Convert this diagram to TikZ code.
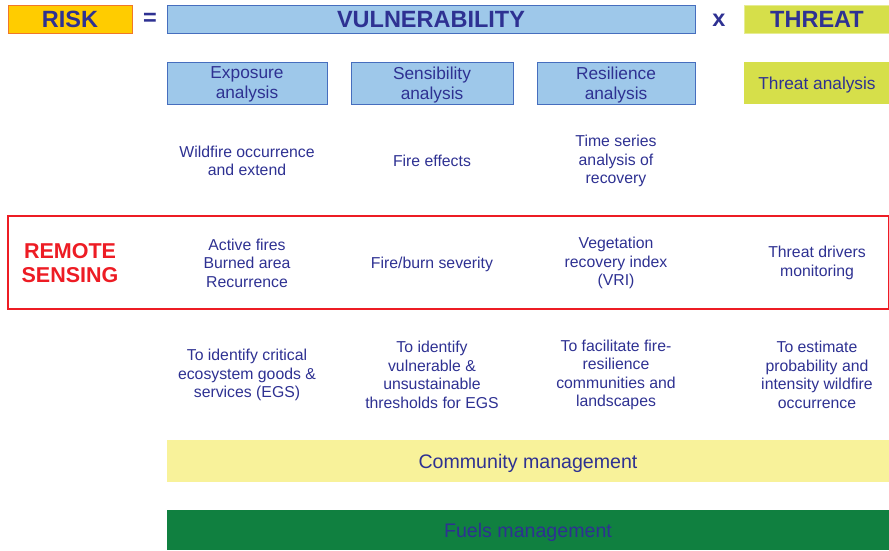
\documentclass[tikz,border=0pt]{standalone}
\usepackage{fontspec}
\setmainfont{Liberation Sans}
\definecolor{riskGold}{RGB}{255, 204, 0}
\definecolor{riskOrange}{RGB}{240, 120, 40}
\definecolor{vulnBlue}{RGB}{158, 200, 234}
\definecolor{vulnEdge}{RGB}{70, 110, 190}
\definecolor{threatLime}{RGB}{214, 223, 74}
\definecolor{textNavy}{RGB}{46, 49, 146}
\definecolor{rsRed}{RGB}{237, 28, 36}
\definecolor{commYellow}{RGB}{248, 242, 154}
\definecolor{fuelGreen}{RGB}{16, 128, 64}
\usetikzlibrary{positioning}

\tikzset{
  headbox/.style={minimum height=28pt, inner sep=0pt, text depth=0pt, font=\fontsize{23.5}{26}\selectfont\bfseries, text=textNavy},
  analysisbox/.style={fill=vulnBlue, draw=vulnEdge, line width=1pt, minimum height=42pt, inner sep=0pt, text depth=0pt, align=center, font=\fontsize{17.3}{20}\selectfont, text=textNavy},
  celltext/.style={align=center, font=\fontsize{15.8}{18.5}\selectfont, text=textNavy},
  bandbox/.style={minimum width=722pt, inner sep=0pt, text depth=0pt, font=\fontsize{19.6}{22}\selectfont, text=textNavy}
}

\begin{document}
\begin{tikzpicture}[x=1pt, y=-1pt]
  \useasboundingbox (0,0) rectangle (889,550);

  % top line: risk = vulnerability x threat
  \node[headbox, fill=riskGold, draw=riskOrange, line width=1pt, minimum width=124pt] (risk) at (70,19) {RISK};
  \node[headbox] (equals) at (150,19) {=};
  \node[headbox] (times) at (719,20) {x};
  \node[headbox, fill=vulnBlue, draw=vulnEdge, line width=1pt, minimum width=528pt] (vuln) at (431,19) {VULNERABILITY};
  \node[headbox, fill=threatLime, draw=threatLime!60!white, line width=0.8pt, minimum width=146pt] (threat) at (817,19) {THREAT};

  % analysis boxes
  \node[analysisbox, minimum width=160pt] (exposure) at (247,83) {Exposure\\analysis};
  \node[analysisbox, minimum width=162pt] (sensibility) at (432,83) {Sensibility\\analysis};
  \node[analysisbox, minimum width=158pt] (resilience) at (616,83) {Resilience\\analysis};
  \node[analysisbox, fill=threatLime, draw=none, minimum width=146pt] (threatan) at (817,83) {Threat analysis};

  % what is analysed
  \node[celltext] (occurrence) at (247,161) {Wildfire occurrence\\and extend};
  \node[celltext] (effects) at (432,161) {Fire effects};
  \node[celltext] (series) at (616,161) {Time series\\analysis of\\recovery};

  % remote sensing band
  \draw[rsRed, line width=1.5pt] (8,216) rectangle (889,309);
  \node[align=center, font=\fontsize{21.5}{24}\selectfont\bfseries, text=rsRed] (remote) at (70,263) {REMOTE\\SENSING};
  \node[celltext] (fires) at (247,263) {Active fires\\Burned area\\Recurrence};
  \node[celltext] (severity) at (432,264) {Fire/burn severity};
  \node[celltext] (vri) at (616,263) {Vegetation\\recovery index\\(VRI)};
  \node[celltext] (drivers) at (817,263) {Threat drivers\\monitoring};

  % aims
  \node[celltext] (goods) at (247,375) {To identify critical\\ecosystem goods \&\\services (EGS)};
  \node[celltext] (thresholds) at (432,375) {To identify\\vulnerable \&\\unsustainable\\thresholds for EGS};
  \node[celltext] (communities) at (616,375) {To facilitate fire-\\resilience\\communities and\\landscapes};
  \node[celltext] (estimate) at (817,375) {To estimate\\probability and\\intensity wildfire\\occurrence};

  % management bands
  \node[bandbox, fill=commYellow, minimum height=42pt] (community) at (528,461) {Community management};
  \node[bandbox, fill=fuelGreen, minimum height=40pt] (fuels) at (528,530) {Fuels management};
\end{tikzpicture}
\end{document}
